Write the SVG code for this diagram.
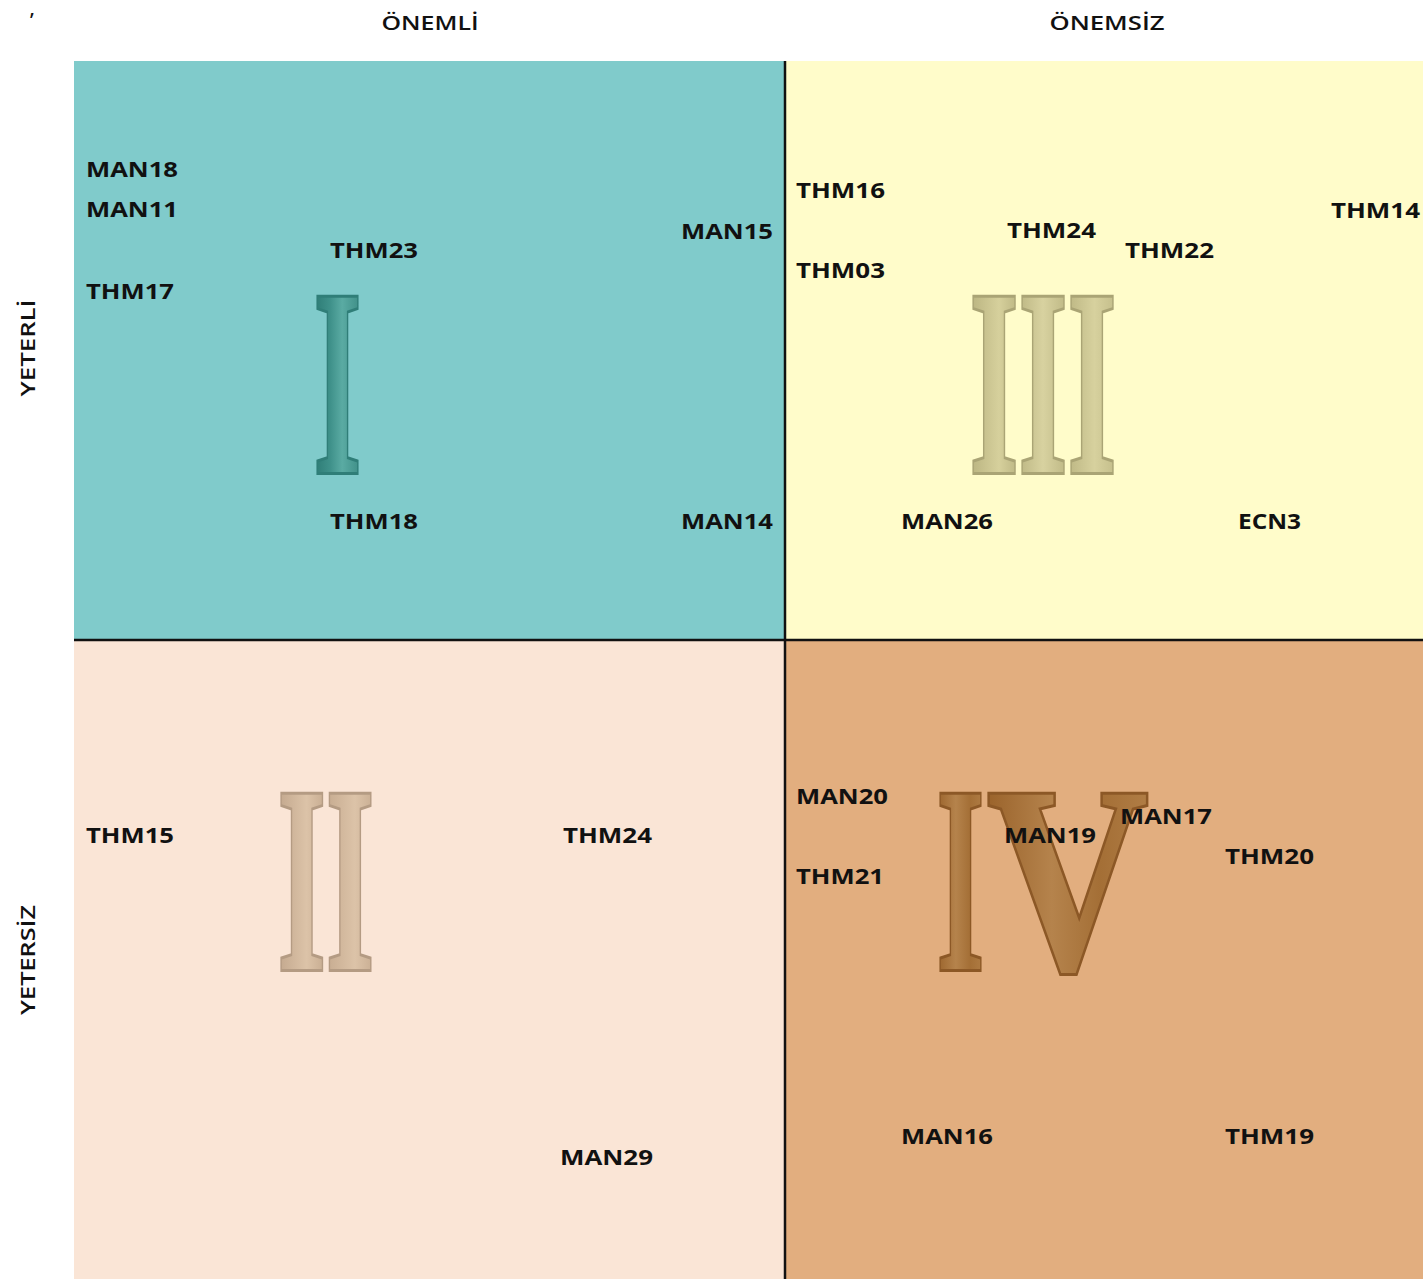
<svg xmlns="http://www.w3.org/2000/svg" width="1423" height="1279" viewBox="0 0 1423 1279">
<style>
.lbl{font-family:"Open Sans","Liberation Sans",sans-serif;font-weight:700;font-size:21px;fill:#111;}
.hdr{font-family:"Open Sans","Liberation Sans",sans-serif;font-weight:600;font-size:19px;fill:#111;}
.num{font-family:"Liberation Serif","Times New Roman",serif;font-weight:700;font-size:266px;stroke-width:6;stroke-linejoin:miter;paint-order:stroke;}
.div{stroke:#111;stroke-width:2.5;fill:none;}
</style>
<defs>
<linearGradient id="gI" x1="0" y1="0" x2="1" y2="0">
<stop offset="0" stop-color="#2C7A74"/><stop offset="0.35" stop-color="#3F918A"/><stop offset="0.6" stop-color="#5AABA3"/><stop offset="1" stop-color="#3C8C85"/>
</linearGradient>
<linearGradient id="gIII" x1="0" y1="0" x2="1" y2="0">
<stop offset="0" stop-color="#B9B380"/><stop offset="0.2" stop-color="#D6D09C"/><stop offset="0.33" stop-color="#BCB683"/><stop offset="0.5" stop-color="#D8D2A0"/><stop offset="0.67" stop-color="#BDB784"/><stop offset="0.85" stop-color="#D7D19E"/><stop offset="1" stop-color="#C3BD8A"/>
</linearGradient>
<linearGradient id="gII" x1="0" y1="0" x2="1" y2="0">
<stop offset="0" stop-color="#C2A78D"/><stop offset="0.3" stop-color="#DCC3A8"/><stop offset="0.5" stop-color="#C6AB90"/><stop offset="0.8" stop-color="#DCC3A8"/><stop offset="1" stop-color="#C8AD92"/>
</linearGradient>
<linearGradient id="gIV" x1="0" y1="0" x2="1" y2="0">
<stop offset="0" stop-color="#9A632B"/><stop offset="0.4" stop-color="#B5834C"/><stop offset="0.7" stop-color="#A46F36"/><stop offset="1" stop-color="#B07D45"/>
</linearGradient>
</defs>
<rect x="0" y="0" width="1423" height="1279" fill="#ffffff"/>
<text x="30" y="27" class="hdr" font-size="18">’</text>
<g id="quadrant-I">
<rect x="74" y="61" width="711" height="579" fill="#80CBCB"/>
<text class="num" x="313.7" y="472" textLength="47.6" lengthAdjust="spacingAndGlyphs" fill="url(#gI)" stroke="#2F7E78">I</text>
</g>
<g id="quadrant-III">
<rect x="785" y="61" width="638" height="579" fill="#FFFCCA"/>
<text class="num" x="969.6" y="472" textLength="146.9" lengthAdjust="spacingAndGlyphs" fill="url(#gIII)" stroke="#AAA475">III</text>
</g>
<g id="quadrant-II">
<rect x="74" y="640" width="711" height="639" fill="#FAE5D6"/>
<text class="num" x="277.6" y="969" textLength="96.7" lengthAdjust="spacingAndGlyphs" fill="url(#gII)" stroke="#B49B83">II</text>
</g>
<g id="quadrant-IV">
<rect x="785" y="640" width="638" height="639" fill="#E2AE7F"/>
<text class="num" x="936.7" y="969" textLength="47.6" lengthAdjust="spacingAndGlyphs" fill="url(#gIV)" stroke="#8C5826">I</text>
<text class="num" x="987.4" y="969" textLength="161" lengthAdjust="spacingAndGlyphs" fill="url(#gIV)" stroke="#8C5826">V</text>
</g>
<g id="connectors">
<line class="div" x1="785" y1="61" x2="785" y2="1279"/>
<line class="div" x1="74" y1="640" x2="1423" y2="640"/>
</g>
<g id="headers">
<text id="h-onemli" class="hdr" x="430" y="30" text-anchor="middle" textLength="97" lengthAdjust="spacingAndGlyphs">ÖNEMLİ</text>
<text id="h-onemsiz" class="hdr" x="1107" y="30" text-anchor="middle" textLength="115" lengthAdjust="spacingAndGlyphs">ÖNEMSİZ</text>
<text id="h-yeterli" class="hdr" transform="translate(35,348) rotate(-90)" text-anchor="middle" textLength="97" lengthAdjust="spacingAndGlyphs">YETERLİ</text>
<text id="h-yetersiz" class="hdr" transform="translate(35,960) rotate(-90)" text-anchor="middle" textLength="110" lengthAdjust="spacingAndGlyphs">YETERSİZ</text>
</g>
<g id="labels">
<g id="n-man18"><text class="lbl" x="86" y="177" textLength="92" lengthAdjust="spacingAndGlyphs">MAN18</text></g>
<g id="n-man11"><text class="lbl" x="86" y="217" textLength="92" lengthAdjust="spacingAndGlyphs">MAN11</text></g>
<g id="n-thm17"><text class="lbl" x="86" y="299" textLength="88" lengthAdjust="spacingAndGlyphs">THM17</text></g>
<g id="n-thm23"><text class="lbl" x="330" y="258" textLength="88" lengthAdjust="spacingAndGlyphs">THM23</text></g>
<g id="n-man15"><text class="lbl" x="681" y="239" textLength="92" lengthAdjust="spacingAndGlyphs">MAN15</text></g>
<g id="n-thm18"><text class="lbl" x="330" y="529" textLength="88" lengthAdjust="spacingAndGlyphs">THM18</text></g>
<g id="n-man14"><text class="lbl" x="681" y="529" textLength="92" lengthAdjust="spacingAndGlyphs">MAN14</text></g>
<g id="n-thm16"><text class="lbl" x="796" y="198" textLength="89" lengthAdjust="spacingAndGlyphs">THM16</text></g>
<g id="n-thm03"><text class="lbl" x="796" y="278" textLength="89" lengthAdjust="spacingAndGlyphs">THM03</text></g>
<g id="n-thm24a"><text class="lbl" x="1007" y="238" textLength="89" lengthAdjust="spacingAndGlyphs">THM24</text></g>
<g id="n-thm22"><text class="lbl" x="1125" y="258" textLength="89" lengthAdjust="spacingAndGlyphs">THM22</text></g>
<g id="n-thm14"><text class="lbl" x="1331" y="218" textLength="89" lengthAdjust="spacingAndGlyphs">THM14</text></g>
<g id="n-man26"><text class="lbl" x="901" y="529" textLength="92" lengthAdjust="spacingAndGlyphs">MAN26</text></g>
<g id="n-ecn3"><text class="lbl" x="1238" y="529" textLength="63" lengthAdjust="spacingAndGlyphs">ECN3</text></g>
<g id="n-thm15"><text class="lbl" x="86" y="843" textLength="88" lengthAdjust="spacingAndGlyphs">THM15</text></g>
<g id="n-thm24b"><text class="lbl" x="563" y="843" textLength="89" lengthAdjust="spacingAndGlyphs">THM24</text></g>
<g id="n-man29"><text class="lbl" x="560" y="1165" textLength="93" lengthAdjust="spacingAndGlyphs">MAN29</text></g>
<g id="n-man20"><text class="lbl" x="796" y="804" textLength="92" lengthAdjust="spacingAndGlyphs">MAN20</text></g>
<g id="n-thm21"><text class="lbl" x="796" y="884" textLength="88" lengthAdjust="spacingAndGlyphs">THM21</text></g>
<g id="n-man19"><text class="lbl" x="1004" y="843" textLength="92" lengthAdjust="spacingAndGlyphs">MAN19</text></g>
<g id="n-man17"><text class="lbl" x="1120" y="824" textLength="92" lengthAdjust="spacingAndGlyphs">MAN17</text></g>
<g id="n-thm20"><text class="lbl" x="1225" y="864" textLength="89" lengthAdjust="spacingAndGlyphs">THM20</text></g>
<g id="n-man16"><text class="lbl" x="901" y="1144" textLength="92" lengthAdjust="spacingAndGlyphs">MAN16</text></g>
<g id="n-thm19"><text class="lbl" x="1225" y="1144" textLength="89" lengthAdjust="spacingAndGlyphs">THM19</text></g>
</g>
</svg>
